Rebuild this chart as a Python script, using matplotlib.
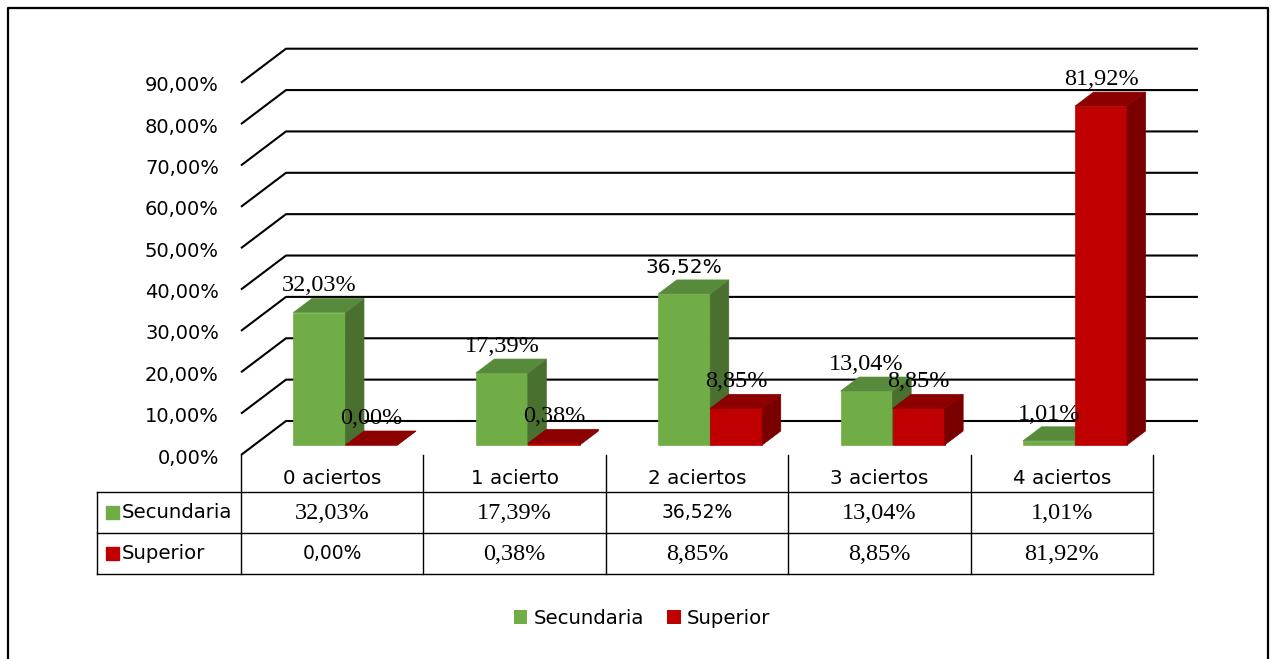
import numpy as np
import matplotlib
matplotlib.use('Agg')
import matplotlib.pyplot as plt
from matplotlib.patches import Polygon, Rectangle, Patch

categories = ['0 aciertos', '1 acierto', '2 aciertos', '3 aciertos', '4 aciertos']
secundaria = [32.03, 17.39, 36.52, 13.04, 1.01]
superior = [0.00, 0.38, 8.85, 8.85, 81.92]
series_names = ['Secundaria', 'Superior']
yticks = np.arange(0, 100, 10)
# numbers that were set in the sans font in the original document
sans_sec = [False, False, True, False, False]
sans_sup = [True, False, False, False, False]
label_sans_sec = [False, False, True, False, False]
label_sans_sup = [False, False, False, False, False]

plt.rcParams['font.family'] = 'DejaVu Sans'
SERIF = 'Liberation Serif'

def pct(v):
    return f'{v:.2f}%'.replace('.', ',')

W, H = 1271, 659
fig = plt.figure(figsize=(W / 100, H / 100), dpi=100)

# front plane of the plot area, in pixels
X0, X1, Y0, Y90 = 241, 1153, 455, 82.7
ax = fig.add_axes([X0 / W, 1 - Y0 / H, (X1 - X0) / W, (Y0 - Y90) / H])
ax.set_xlim(0, 5)
ax.set_ylim(0, 90)
ax.axis('off')

pxx = (X1 - X0) / 5
pxy = (Y0 - Y90) / 90
DX = 45 / pxx   # depth offset in data units
DY = 34 / pxy

def P(x, v, d):
    return (x + d * DX, v + d * DY)

# gridlines: diagonal on left wall + horizontal on back wall
for v in yticks:
    a, b, c = P(0, v, 0), P(0, v, 1), P(5, v, 1)
    ax.plot([a[0], b[0], c[0]], [a[1], b[1], c[1]], color='black', lw=1.5,
            clip_on=False, zorder=1, solid_capstyle='butt')
    ax.annotate(pct(v), xy=(0, v), xytext=(-22, -3), textcoords='offset pixels',
                ha='right', va='center', fontsize=14, annotation_clip=False)

colors = [('#70AD47', '#578A3A', '#4A7030'),
          ('#C00000', '#8C0000', '#7A0000')]
BW = 0.285
D0, D1 = 0.294, 0.706
z = 2
for i in range(len(categories)):
    for s, vals in enumerate([secundaria, superior]):
        v = vals[i]
        xl = i + 0.5 - BW + s * BW
        xr = xl + BW
        front, top, side = colors[s]
        faces = [
            ([P(xl, 0, D0), P(xr, 0, D0), P(xr, v, D0), P(xl, v, D0)], front),
            ([P(xr, 0, D0), P(xr, 0, D1), P(xr, v, D1), P(xr, v, D0)], side),
            ([P(xl, v, D0), P(xr, v, D0), P(xr, v, D1), P(xl, v, D1)], top),
        ]
        for pts, col in faces:
            ax.add_patch(Polygon(pts, closed=True, facecolor=col, edgecolor=col,
                                 lw=0.5, clip_on=False, zorder=z))
        z += 1
        sans = (label_sans_sec if s == 0 else label_sans_sup)[i]
        fam = 'DejaVu Sans' if sans else SERIF
        ax.annotate(pct(v), xy=((xl + xr) / 2 + D0 * DX, v + D1 * DY),
                    xytext=(0, 7), textcoords='offset pixels', ha='center',
                    va='baseline', fontsize=14.5 if sans else 17.5, family=fam,
                    annotation_clip=False, zorder=50)

# data table and frame, in pixel coordinates
tx = fig.add_axes([0, 0, 1, 1])
tx.set_xlim(0, W)
tx.set_ylim(H, 0)
tx.axis('off')
tx.patch.set_visible(False)

col_x = [X0 + k * pxx for k in range(6)]
rows_y = [491.7, 532.7, 574]
left = 97
for cx in col_x:
    tx.plot([cx, cx], [Y0, rows_y[-1]], color='black', lw=1)
tx.plot([left, left], [rows_y[0], rows_y[-1]], color='black', lw=1)
for ry in rows_y:
    tx.plot([left, X1], [ry, ry], color='black', lw=1)

for i, cat in enumerate(categories):
    cx = X0 + (i + 0.5) * pxx
    tx.text(cx, 478, cat, ha='center', va='center', fontsize=14.3)
    for r, (vals, flags) in enumerate([(secundaria, sans_sec), (superior, sans_sup)]):
        yc = (rows_y[r] + rows_y[r + 1]) / 2
        if flags[i]:
            tx.text(cx, yc, pct(vals[i]), ha='center', va='center', fontsize=13.5)
        else:
            tx.text(cx, yc + 1, pct(vals[i]), ha='center', va='center',
                    fontsize=17.5, family=SERIF)

for r, name in enumerate(series_names):
    yc = (rows_y[r] + rows_y[r + 1]) / 2
    tx.add_patch(Rectangle((106, yc - 6.5), 13, 13, color=colors[r][0]))
    tx.text(122, yc, name, ha='left', va='center', fontsize=14.2)

# outer frame
tx.plot([8, 8, 1268, 1268], [H + 5, 8, 8, H + 5], color='black', lw=1.6,
        clip_on=False)

handles = [Patch(facecolor=colors[0][0]), Patch(facecolor=colors[1][0])]
fig.legend(handles, series_names, loc='center', bbox_to_anchor=(642 / W, 1 - 618 / H),
           ncol=2, frameon=False, fontsize=14.2, handlelength=0.7, handleheight=0.7,
           handletextpad=0.3, columnspacing=1.2)

fig.savefig('out.png', dpi=100)
